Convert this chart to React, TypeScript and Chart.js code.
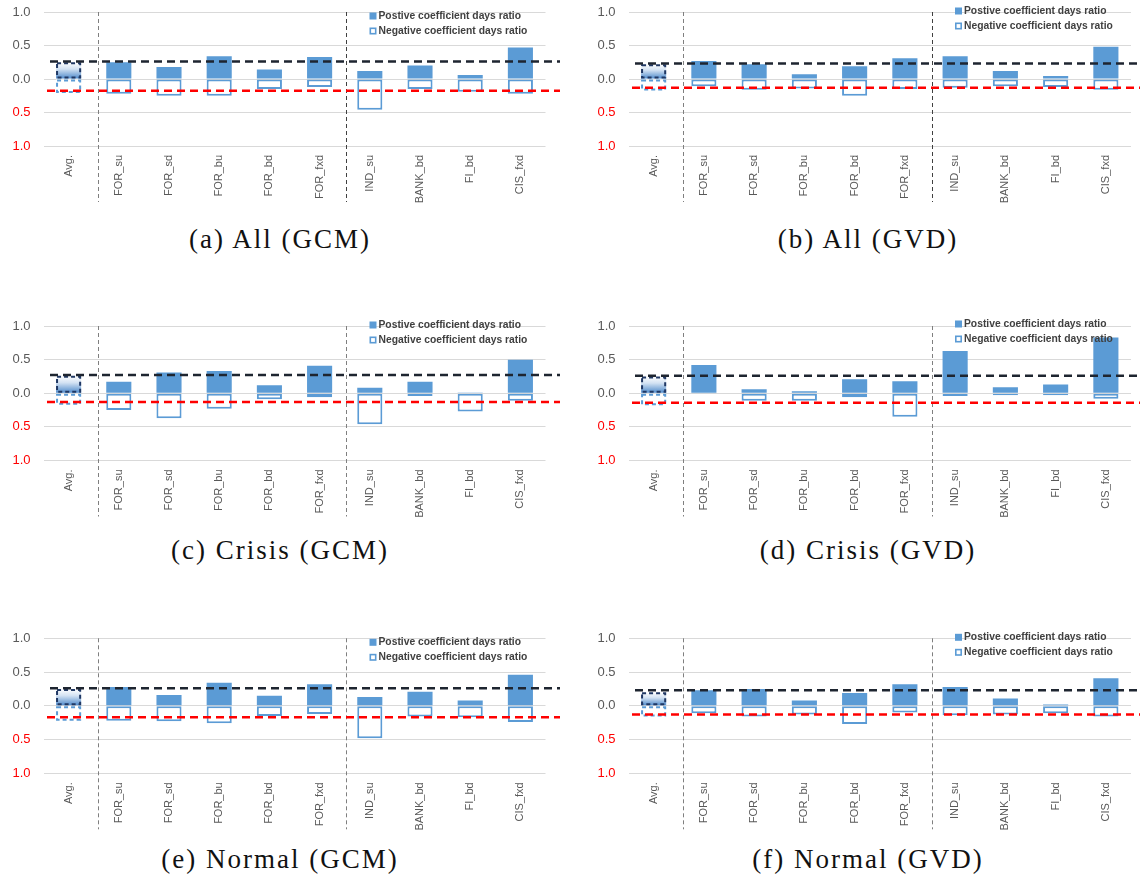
import React, { useEffect, useRef } from 'react';
import { Chart, registerables } from 'chart.js';

Chart.register(...registerables);

// ---------------- data ----------------
const CATEGORIES = ['Avg.', 'FOR_su', 'FOR_sd', 'FOR_bu', 'FOR_bd', 'FOR_fxd', 'IND_su', 'BANK_bd', 'FI_bd', 'CIS_fxd'];
const Y_TICK_VALUES = [-1, -0.5, 0, 0.5, 1];
const Y_TICK_LABELS = ['1.0', '0.5', '0.0', '0.5', '1.0'];
const LEGEND_LABELS = ['Postive coefficient days ratio', 'Negative coefficient days ratio'];
const CAPTIONS = ['(a) All (GCM)', '(b) All (GVD)', '(c) Crisis (GCM)', '(d) Crisis (GVD)', '(e) Normal (GCM)', '(f) Normal (GVD)'];

const POS_ALL_GCM = [0.25, 0.25, 0.18, 0.34, 0.14, 0.33, 0.12, 0.2, 0.06, 0.47];
const NEG_ALL_GCM = [-0.21, -0.22, -0.25, -0.25, -0.15, -0.12, -0.46, -0.15, -0.19, -0.22];
const REF_ALL_GCM = [0.26, -0.175];

const POS_ALL_GVD = [0.22, 0.27, 0.22, 0.07, 0.19, 0.31, 0.34, 0.12, 0.045, 0.48];
const NEG_ALL_GVD = [-0.17, -0.11, -0.16, -0.14, -0.25, -0.15, -0.13, -0.11, -0.12, -0.16];
const REF_ALL_GVD = [0.23, -0.13];

const POS_CRISIS_GCM = [0.26, 0.17, 0.31, 0.33, 0.12, 0.41, 0.08, 0.17, 0.005, 0.5];
const NEG_CRISIS_GCM = [-0.17, -0.25, -0.37, -0.23, -0.09, -0.06, -0.46, -0.04, -0.27, -0.11];
const REF_CRISIS_GCM = [0.27, -0.13];

const POS_CRISIS_GVD = [0.25, 0.42, 0.06, 0.03, 0.21, 0.18, 0.63, 0.09, 0.13, 0.83];
const NEG_CRISIS_GVD = [-0.18, -0.005, -0.11, -0.11, -0.06, -0.35, -0.04, -0.03, -0.03, -0.08];
const REF_CRISIS_GVD = [0.26, -0.14];

const POS_NORMAL_GCM = [0.25, 0.28, 0.16, 0.34, 0.15, 0.32, 0.13, 0.21, 0.08, 0.46];
const NEG_NORMAL_GCM = [-0.22, -0.22, -0.23, -0.26, -0.15, -0.12, -0.48, -0.16, -0.17, -0.24];
const REF_NORMAL_GCM = [0.26, -0.17];

const POS_NORMAL_GVD = [0.2, 0.23, 0.25, 0.08, 0.19, 0.32, 0.28, 0.11, 0.02, 0.41];
const NEG_NORMAL_GVD = [-0.16, -0.11, -0.16, -0.13, -0.27, -0.1, -0.14, -0.13, -0.11, -0.16];
const REF_NORMAL_GVD = [0.23, -0.13];

// ---------------- layout / style ----------------
const BLUE = '#5b9bd5';
const NAVY = '#203864';
const COLS = [
  { left: 0, width: 565, axisW: 43.5, padR: 19.5, capX: 280 },
  { left: 570, width: 570, axisW: 58.5, padR: 9, capX: 868 },
];
const ROWS = [
  { top: 0, h: 210, padT: 12, chartBottom: 146, capY: 239, legendDy: [4, -1] },
  { top: 310, h: 215, padT: 16, chartBottom: 150.5, capY: 550, legendDy: [-1, -2] },
  { top: 625, h: 215, padT: 13.3, chartBottom: 148.3, capY: 859, legendDy: [4, -1] },
];

const PANELS = [
  { pos: POS_ALL_GCM, neg: NEG_ALL_GCM, ref: REF_ALL_GCM, caption: CAPTIONS[0], row: 0, col: 0 },
  { pos: POS_ALL_GVD, neg: NEG_ALL_GVD, ref: REF_ALL_GVD, caption: CAPTIONS[1], row: 0, col: 1 },
  { pos: POS_CRISIS_GCM, neg: NEG_CRISIS_GCM, ref: REF_CRISIS_GCM, caption: CAPTIONS[2], row: 1, col: 0 },
  { pos: POS_CRISIS_GVD, neg: NEG_CRISIS_GVD, ref: REF_CRISIS_GVD, caption: CAPTIONS[3], row: 1, col: 1 },
  { pos: POS_NORMAL_GCM, neg: NEG_NORMAL_GCM, ref: REF_NORMAL_GCM, caption: CAPTIONS[4], row: 2, col: 0 },
  { pos: POS_NORMAL_GVD, neg: NEG_NORMAL_GVD, ref: REF_NORMAL_GVD, caption: CAPTIONS[5], row: 2, col: 1 },
];

const overlayPlugin = {
  id: 'overlay',
  afterDatasetsDraw(chart: any, _args: any, opts: any) {
    const { ctx, chartArea } = chart;
    const xs = chart.scales.x;
    const ys = chart.scales.y;
    ctx.save();

    // dashed outlines of the Avg. bars
    [0, 1].forEach((di) => {
      const meta = chart.getDatasetMeta(di);
      const el = meta.data[0];
      if (!el) return;
      const p = el.getProps(['x', 'y', 'base', 'width'], true);
      const l = p.x - p.width / 2;
      const t = Math.min(p.y, p.base);
      const h = Math.abs(p.base - p.y);
      ctx.setLineDash([4, 3]);
      ctx.lineWidth = 2;
      ctx.strokeStyle = di === 0 ? NAVY : BLUE;
      ctx.strokeRect(l + 1, t + 1, p.width - 2, h - 2);
    });

    // vertical dividers
    ctx.setLineDash([4, 3]);
    ctx.lineWidth = 1;
    const divs = [0.58, 5.53];
    divs.forEach((v, i) => {
      const x = Math.round(xs.getPixelForValue(v)) + 0.5;
      ctx.strokeStyle = i === 1 && opts.darkDivider ? '#404040' : '#7f7f7f';
      ctx.beginPath();
      ctx.moveTo(x, chartArea.top);
      ctx.lineTo(x, chartArea.bottom + 56);
      ctx.stroke();
    });

    // reference lines
    const ref = opts.ref as number[];
    ctx.setLineDash([8, 5]);
    ctx.lineWidth = 2.5;
    [[ref[0], '#1e2530', 6.5], [ref[1], '#ff0000', 3.5]].forEach(([v, c, off]: any) => {
      const y = ys.getPixelForValue(v);
      ctx.strokeStyle = c;
      ctx.beginPath();
      ctx.moveTo(chartArea.left + off, y);
      ctx.lineTo(chartArea.right + 14.5, y);
      ctx.stroke();
    });

    // legend
    ctx.setLineDash([]);
    const tx = chartArea.right - 167;
    const y0 = chartArea.top + opts.legendDy;
    ctx.font = 'bold 10.3px "Liberation Sans", Arial, sans-serif';
    ctx.textBaseline = 'middle';
    ctx.textAlign = 'left';
    ctx.fillStyle = '#404040';
    ctx.fillText(LEGEND_LABELS[0], tx, y0);
    ctx.fillText(LEGEND_LABELS[1], tx, y0 + 15);
    ctx.fillStyle = BLUE;
    ctx.fillRect(tx - 9, y0 - 3.5, 7, 7);
    ctx.fillStyle = '#ffffff';
    ctx.fillRect(tx - 9, y0 + 15 - 3.5, 7, 7);
    ctx.strokeStyle = BLUE;
    ctx.lineWidth = 1.6;
    ctx.strokeRect(tx - 8.2, y0 + 15 - 2.7, 5.4, 5.4);

    ctx.restore();
  },
};

function Panel({ panel }: { panel: any }) {
  const ref = useRef<HTMLCanvasElement | null>(null);
  const col = COLS[panel.col];
  const row = ROWS[panel.row];
  useEffect(() => {
    if (!ref.current) return;
    const chart = new Chart(ref.current, {
      type: 'bar',
      data: {
        labels: CATEGORIES,
        datasets: [
          {
            label: LEGEND_LABELS[0],
            data: panel.pos,
            order: 1,
            backgroundColor: (c: any) => {
              if (c.type !== 'data' || c.dataIndex !== 0) return BLUE;
              const ch = c.chart;
              const ys = ch.scales && ch.scales.y;
              if (!ys || !ch.chartArea) return BLUE;
              const top = ys.getPixelForValue(c.raw);
              const base = ys.getPixelForValue(0);
              if (!isFinite(top) || !isFinite(base) || top === base) return BLUE;
              const g = ch.ctx.createLinearGradient(0, top, 0, base);
              g.addColorStop(0, '#ffffff');
              g.addColorStop(0.4, '#d3e2f3');
              g.addColorStop(1, '#4a87c9');
              return g;
            },
            borderWidth: 0,
          },
          {
            label: LEGEND_LABELS[1],
            data: panel.neg,
            order: 0,
            backgroundColor: '#ffffff',
            borderColor: BLUE,
            borderWidth: (c: any) => (c.dataIndex === 0 ? 0 : 2),
            borderSkipped: false,
          },
        ],
      },
      options: {
        responsive: false,
        animation: false,
        devicePixelRatio: 1,
        barPercentage: 0.5,
        categoryPercentage: 1,
        layout: { padding: { left: 0, right: col.padR, top: row.padT, bottom: 0 } },
        scales: {
          x: {
            type: 'category',
            stacked: true,
            offset: true,
            grid: { display: false, drawTicks: false },
            border: { display: false },
            ticks: {
              autoSkip: false,
              minRotation: 90,
              maxRotation: 90,
              padding: 9,
              color: '#595959',
              font: { family: '"Liberation Sans", Arial, sans-serif', size: 11 },
            },
            afterFit: (s: any) => {
              s.height = row.h - row.chartBottom;
            },
          },
          y: {
            stacked: true,
            min: -1,
            max: 1,
            grid: { color: '#d9d9d9', lineWidth: 1, drawTicks: true, tickLength: 13, tickColor: 'rgba(0,0,0,0)' },
            border: { display: false },
            afterBuildTicks: (s: any) => {
              s.ticks = Y_TICK_VALUES.map((v) => ({ value: v }));
            },
            ticks: {
              padding: 0,
              color: (c: any) => (c.tick && c.tick.value < 0 ? '#ff0000' : '#595959'),
              font: { family: '"Liberation Sans", Arial, sans-serif', size: 13 },
              callback: (v: any) => {
                const i = Y_TICK_VALUES.indexOf(Number(v));
                return i >= 0 ? Y_TICK_LABELS[i] : '';
              },
            },
            afterFit: (s: any) => {
              s.width = col.axisW;
            },
          },
        },
        plugins: {
          legend: { display: false },
          tooltip: { enabled: false },
          overlay: { ref: panel.ref, legendDy: row.legendDy[panel.col], darkDivider: panel.row === 0 },
        } as any,
      },
      plugins: [overlayPlugin],
    } as any);
    return () => chart.destroy();
  }, []);
  return (
    <>
      <div style={{ position: 'absolute', left: col.left, top: row.top, width: col.width, height: row.h }}>
        <canvas ref={ref} width={col.width} height={row.h} style={{ display: 'block' }} />
      </div>
      <div
        style={{
          position: 'absolute',
          left: col.capX - 200,
          width: 400,
          top: row.capY - 15,
          height: 30,
          lineHeight: '30px',
          textAlign: 'center',
          fontFamily: '"Liberation Serif", "Times New Roman", serif',
          fontSize: 27,
          letterSpacing: '2px',
          color: '#111',
          whiteSpace: 'nowrap',
        }}
      >
        {panel.caption}
      </div>
    </>
  );
}

export default function App() {
  return (
    <div style={{ position: 'absolute', left: 0, top: 0, width: 1140, height: 883, background: '#ffffff', overflow: 'hidden' }}>
      {PANELS.map((p, i) => (
        <Panel key={i} panel={p} />
      ))}
    </div>
  );
}
